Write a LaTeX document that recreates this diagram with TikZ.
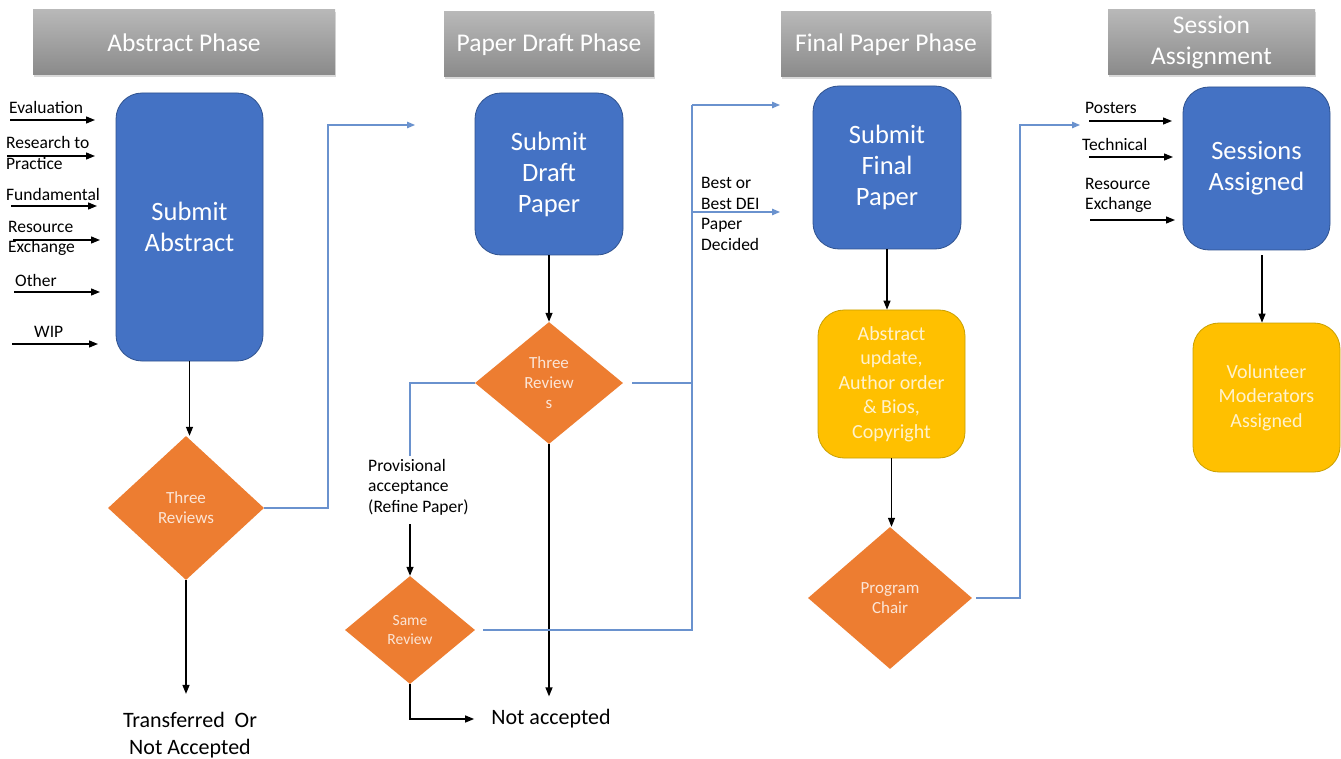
\documentclass[tikz,border=0pt]{standalone}
\usepackage{fontspec}
\setmainfont{Carlito}
\usetikzlibrary{arrows.meta,shapes.geometric,shadows}
\definecolor{bluebox}{HTML}{4472C4}
\definecolor{blueedge}{HTML}{2F528F}
\definecolor{yelbox}{HTML}{FFC000}
\definecolor{yeledge}{HTML}{C9A000}
\definecolor{yeltext}{HTML}{FFF2CC}
\definecolor{orgbox}{HTML}{ED7D31}
\definecolor{orgtext}{HTML}{FBE5D6}
\definecolor{hdtop}{HTML}{B8B8B8}
\definecolor{hdbot}{HTML}{8A8A8A}
\definecolor{conn}{HTML}{6A92CE}
\tikzset{
  hdr/.style={rectangle, top color=hdtop, bottom color=hdbot, draw=none, text=white,
    font=\fontsize{25.5}{31}\selectfont, align=center, inner sep=0pt,
    drop shadow={shadow xshift=1pt, shadow yshift=-2.5pt, opacity=0.15, fill=black}},
  bbox/.style={rectangle, rounded corners=26pt, fill=bluebox, draw=blueedge, line width=0.8pt,
    text=white, font=\fontsize{26.5}{31}\selectfont, align=center, inner sep=0pt},
  ybox/.style={rectangle, rounded corners=26pt, fill=yelbox, draw=yeledge, line width=0.8pt,
    text=yeltext, font=\fontsize{20}{24.5}\selectfont, align=center, inner sep=0pt},
  dia/.style={diamond, fill=orgbox, draw=none, text=orgtext, align=center, inner sep=0pt,
    font=\fontsize{17}{20}\selectfont},
  lbl/.style={font=\fontsize{17.5}{20.5}\selectfont, align=left, inner sep=0pt, text=black},
  big/.style={font=\fontsize{22}{27}\selectfont, align=center, inner sep=0pt, text=black},
  arr/.style={draw=black, line width=1.3pt, -{Triangle[length=9pt,width=7pt]}},
  bl/.style={draw=conn, line width=1.3pt},
  blarr/.style={draw=conn, line width=1.3pt, -{Triangle[length=8pt,width=6.5pt]}},
}
\begin{document}
\begin{tikzpicture}[x=1pt,y=-1pt]
\useasboundingbox[fill=white] (0,0) rectangle (1341,759);

% headers
\node[hdr, minimum width=302pt, minimum height=65pt] (h1) at (184,42.5) {Abstract Phase};
\node[hdr, minimum width=210pt, minimum height=65pt] (h2) at (549,44.5) {Paper Draft Phase};
\node[hdr, minimum width=210pt, minimum height=65pt] (h3) at (886,44.5) {Final Paper Phase};
\node[hdr, minimum width=207pt, minimum height=65pt] (h4) at (1211.5,42.5) {Session\\Assignment};

% blue boxes
\node[bbox, minimum width=147pt, minimum height=268pt] (B1) at (189.5,227) {Submit\\Abstract};
\node[bbox, minimum width=148pt, minimum height=162pt] (B2) at (549,174) {Submit\\Draft\\Paper};
\node[bbox, minimum width=148pt, minimum height=163pt] (B3) at (887,167.5) {Submit\\Final\\Paper};
\node[bbox, minimum width=147pt, minimum height=163pt] (B4) at (1256.5,168.5) {Sessions\\Assigned};

% yellow boxes
\node[ybox, minimum width=147pt, minimum height=148pt] (Y1) at (891.5,384) {Abstract\\update,\\Author order\\\& Bios,\\Copyright};
\node[ybox, minimum width=147pt, minimum height=149pt] (Y2) at (1266.5,397.5) {Volunteer\\Moderators\\Assigned};

% diamonds
\node[dia, minimum width=156pt, minimum height=144pt] (D1) at (186,508) {Three\\Reviews};
\node[dia, minimum width=148pt, minimum height=122pt] (D2) at (549,383) {Three\\Review\\s};
\node[dia, minimum width=130pt, minimum height=108pt, font=\fontsize{15.5}{19}\selectfont] (D3) at (410,630) {Same\\Review};
\node[dia, minimum width=164pt, minimum height=142pt] (D4) at (890,598) {Program\\Chair};

% outcome texts
\node[big] (T) at (190,735) {Transferred~~Or\\Not Accepted};
\node[big] (NA) at (551,719) {Not accepted};

% input labels left
\node[lbl, anchor=west] (l1) at (9,107) {Evaluation};
\node[lbl, anchor=west] (l2) at (6,153) {Research to\\Practice};
\node[lbl, anchor=west] (l3) at (6,194) {Fundamental};
\node[lbl, anchor=west] (l4) at (8,238.5) {Resource\\Exchange};
\node[lbl, anchor=west] (l5) at (15,280) {Other};
\node[lbl, anchor=west] (l6) at (34,332) {WIP};

% input labels right
\node[lbl, anchor=west] (r1) at (1085,108) {Posters};
\node[lbl, anchor=west] (r2) at (1082,144) {Technical};
\node[lbl, anchor=west] (r3) at (1085,195.5) {Resource\\Exchange};

% other labels
\node[lbl, anchor=west] (prov) at (368,487) {Provisional\\acceptance\\(Refine Paper)};
\node[lbl, anchor=west] (best) at (701,214) {Best or\\Best DEI\\Paper\\Decided};

% coordinates for free ends
\coordinate (a1s) at (10,120);  \coordinate (a1e) at (95,120);
\coordinate (a2s) at (7,156);   \coordinate (a2e) at (95,156);
\coordinate (a3s) at (11,206);  \coordinate (a3e) at (97,206);
\coordinate (a4s) at (13,240);  \coordinate (a4e) at (100,240);
\coordinate (a5s) at (14,292);  \coordinate (a5e) at (100,292);
\coordinate (a6s) at (12,344);  \coordinate (a6e) at (98,344);
\coordinate (p1s) at (1089,121); \coordinate (p1e) at (1172,121);
\coordinate (p2s) at (1089,157); \coordinate (p2e) at (1173,157);
\coordinate (p3s) at (1090,220); \coordinate (p3e) at (1175,220);
\coordinate (u1) at (328,125);  \coordinate (u2) at (415,125);
\coordinate (v1) at (692,105);  \coordinate (t1) at (780,105);
\coordinate (t2) at (780,212);
\coordinate (w1) at (1020,125); \coordinate (w2) at (1080,125);
\coordinate (k1) at (410,456);  \coordinate (k2) at (410,524);

% left input arrows
\draw[arr] (a1s) -- (a1e);
\draw[arr] (a2s) -- (a2e);
\draw[arr] (a3s) -- (a3e);
\draw[arr] (a4s) -- (a4e);
\draw[arr] (a5s) -- (a5e);
\draw[arr] (a6s) -- (a6e);
% right input arrows
\draw[arr] (p1s) -- (p1e);
\draw[arr] (p2s) -- (p2e);
\draw[arr] (p3s) -- (p3e);

% black flow arrows
\draw[arr] (B1.south) -- (B1.south |- D1.north);
\draw[arr, shorten >=18pt] (D1.south) -- (D1.south |- T.north);
\draw[arr] (B2.south) -- (D2.north);
\draw[arr, shorten >=13pt] (D2.south) -- (D2.south |- NA.north);
\draw[arr] (k2) -- (D3.north);
\draw[arr, shorten >=17pt] (D3.south) |- (NA.west);
\draw[arr] (B3.south) -- (B3.south |- Y1.north);
\draw[arr] (Y1.south) -- (Y1.south |- D4.north);
\draw[arr, shorten <=5pt] ([xshift=5.5pt]B4.south) -- ([xshift=5.5pt]B4.south |- Y2.north);

% blue connectors
\draw[blarr] (D1.east) -| (u1) -- (u2);
\draw[bl] (D2.west) -| (k1);
\draw[bl, shorten <=9pt] (D2.east) -- (D2.east -| v1);
\draw[bl, shorten <=8pt] (D3.east) -| (v1);
\draw[blarr] (v1) -- (t1);
\draw[blarr] (v1 |- t2) -- (t2);
\draw[blarr, shorten <=4pt] (D4.east) -| (w1) -- (w2);
\end{tikzpicture}
\end{document}
